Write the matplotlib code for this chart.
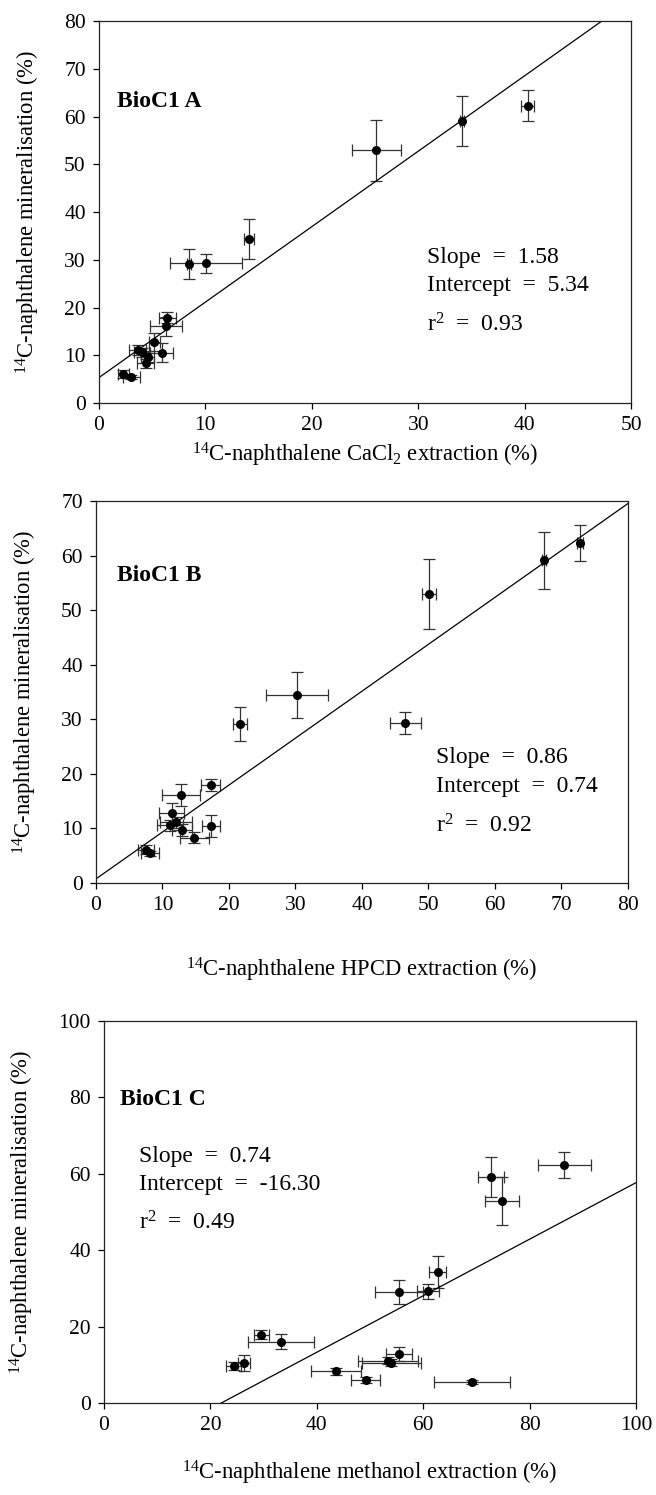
import numpy as np
import matplotlib
matplotlib.use("Agg")
import matplotlib.pyplot as plt

plt.rcParams['font.family'] = ['Liberation Serif', 'DejaVu Serif']
plt.rcParams['mathtext.fontset'] = 'custom'
plt.rcParams['mathtext.rm'] = 'Liberation Serif'
plt.rcParams['mathtext.it'] = 'Liberation Serif:italic'
plt.rcParams['mathtext.bf'] = 'Liberation Serif:bold'

# 14C-naphthalene mineralisation (%), shared by all three panels
mineral = [6.07, 5.44, 11.1, 10.6, 8.3, 9.7, 12.8, 10.5, 16.1, 17.9,
           29.1, 29.3, 34.4, 52.9, 59.1, 62.3]
mineral_err = [0.8, 0.5, 1.0, 1.0, 1.0, 1.1, 1.8, 2.0, 2.0, 1.1,
               3.1, 2.0, 4.2, 6.4, 5.2, 3.3]

# CaCl2 extraction (%)
cacl2 = [2.28, 3.04, 3.63, 4.0, 4.38, 4.57, 5.2, 5.9, 6.3, 6.42,
         8.49, 10.03, 14.1, 26.07, 34.15, 40.3]
cacl2_err = [0.5, 0.8, 0.8, 0.7, 0.8, 0.6, 0.5, 1.1, 1.5, 0.8,
             0.2, 3.4, 0.45, 2.3, 0.2, 0.6]

# HPCD extraction (%)
hpcd = [7.52, 8.13, 11.98, 11.13, 14.8, 12.89, 11.38, 17.25, 12.78, 17.25,
        21.7, 46.54, 30.2, 50.1, 67.35, 72.77]
hpcd_err = [1.2, 1.3, 2.4, 2.0, 2.2, 1.5, 1.9, 1.35, 2.9, 1.45,
            1.05, 2.4, 4.65, 1.05, 0.3, 0.4]

# methanol extraction (%)
methanol = [49.2, 69.2, 53.4, 54.0, 43.6, 24.4, 55.5, 26.3, 33.2, 29.6,
            55.5, 60.9, 62.7, 74.8, 72.7, 86.5]
methanol_err = [2.7, 7.1, 5.6, 5.5, 4.7, 1.4, 2.4, 1.2, 6.2, 1.4,
                4.5, 2.05, 1.55, 3.2, 2.4, 4.95]

# regression results printed on the panels
slopes = [1.58, 0.86, 0.74]
intercepts = [5.34, 0.74, -16.30]
r2 = [0.93, 0.92, 0.49]

panels = [
    dict(x=cacl2, xerr=cacl2_err, name="BioC1 A", xmax=50, xstep=10, ymax=80, ystep=10,
         xlabel=r"$^{14}$C-naphthalene CaCl$_2$ extraction (%)",
         rect=[0.1509, 0.7304, 0.811, 0.2555], stats=(0.616, [0.366, 0.293, 0.188]),
         title=(0.033, 0.774), xpad=4),
    dict(x=hpcd, xerr=hpcd_err, name="BioC1 B", xmax=80, xstep=10, ymax=70, ystep=10,
         xlabel=r"$^{14}$C-naphthalene HPCD extraction (%)",
         rect=[0.1463, 0.4094, 0.811, 0.2555], stats=(0.640, [0.313, 0.239, 0.132]),
         title=(0.039, 0.791), xpad=29),
    dict(x=methanol, xerr=methanol_err, name="BioC1 C", xmax=100, xstep=20, ymax=100, ystep=20,
         xlabel=r"$^{14}$C-naphthalene methanol extraction (%)",
         rect=[0.1585, 0.0615, 0.811, 0.2555], stats=(0.066, [0.632, 0.558, 0.454]),
         title=(0.031, 0.781), xpad=17),
]

fig = plt.figure(figsize=(6.56, 14.95), dpi=100)

for i, p in enumerate(panels):
    ax = fig.add_axes(p["rect"])
    ax.errorbar(p["x"], mineral, xerr=p["xerr"], yerr=mineral_err, fmt='o',
                color='black', ecolor='#333333', elinewidth=0.9, capsize=4,
                capthick=0.9, markersize=5.5)

    # regression line across the whole x range
    xs = np.array([0, p["xmax"]])
    ax.plot(xs, slopes[i] * xs + intercepts[i], color='black', lw=0.9)

    ax.set_xlim(0, p["xmax"])
    ax.set_ylim(0, p["ymax"])
    ax.set_xticks(np.arange(0, p["xmax"] + 1, p["xstep"]))
    ax.set_yticks(np.arange(0, p["ymax"] + 1, p["ystep"]))
    ax.tick_params(direction='out', length=4.5, width=0.9, labelsize=15.5, pad=5)
    for s in ax.spines.values():
        s.set_linewidth(0.9)
        s.set_color('#222222')

    ax.set_xlabel(p["xlabel"], fontsize=16.3, labelpad=p["xpad"])
    ax.set_ylabel(r"$^{14}$C-naphthalene mineralisation (%)", fontsize=16.3, labelpad=16)

    ax.text(p["title"][0], p["title"][1], p["name"], transform=ax.transAxes,
            fontsize=17, fontweight='bold', va='baseline')
    sx, sy = p["stats"]
    ax.text(sx, sy[0], "Slope  =  %.2f" % slopes[i], transform=ax.transAxes,
            fontsize=17, va='baseline')
    ax.text(sx, sy[1], "Intercept  =  %.2f" % intercepts[i], transform=ax.transAxes,
            fontsize=17, va='baseline')
    ax.text(sx, sy[2], r"r$^{2}$  =  %.2f" % r2[i], transform=ax.transAxes,
            fontsize=17, va='baseline')

plt.savefig("out.png", dpi=100)
